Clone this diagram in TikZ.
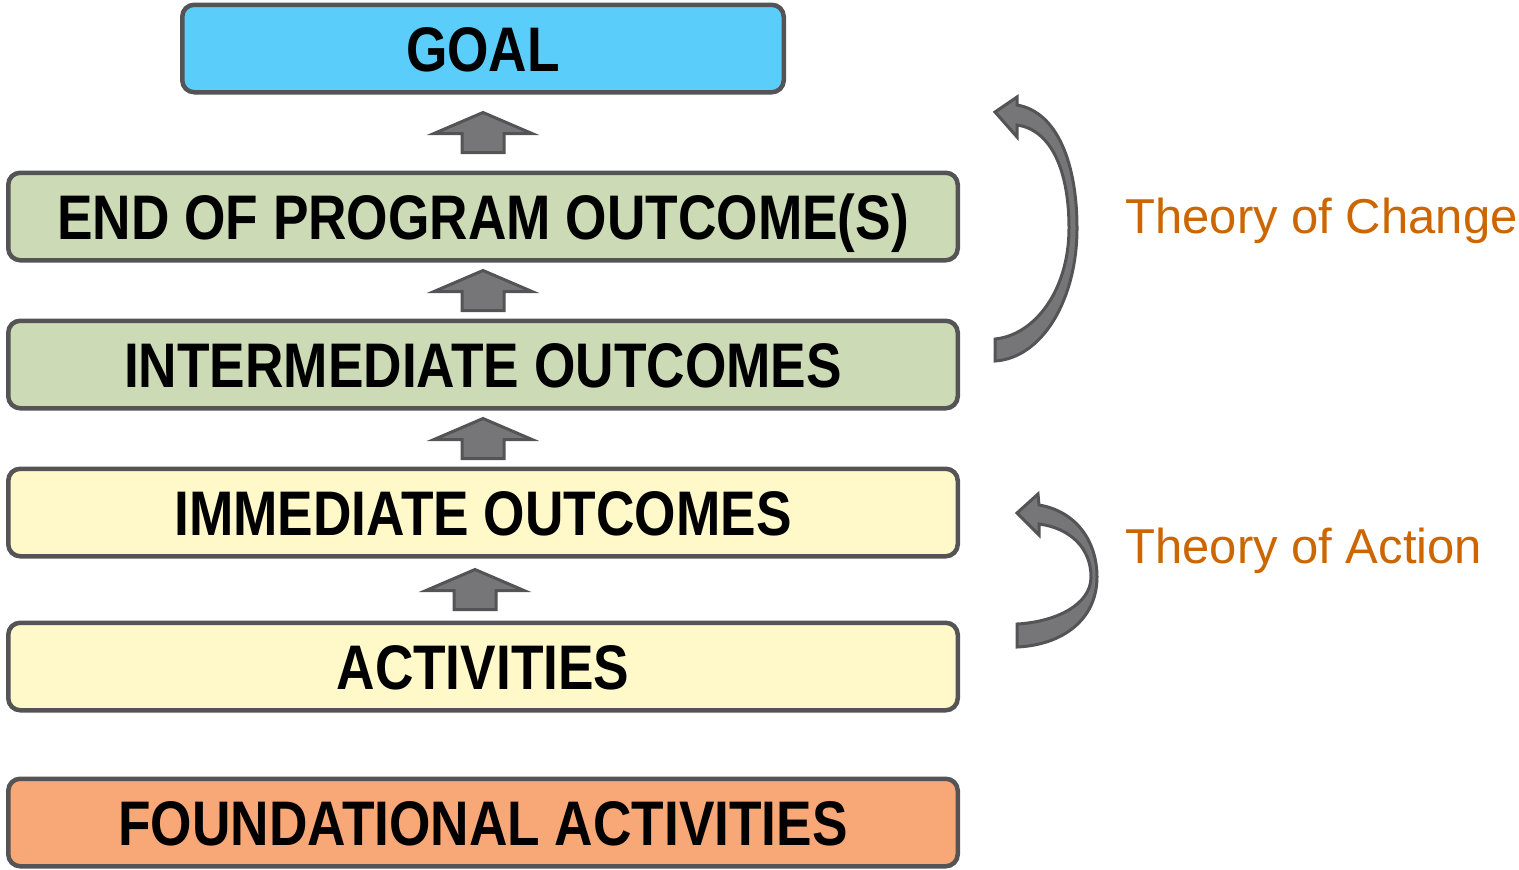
\documentclass[tikz,border=0pt]{standalone}
\usepackage{fontspec}
\setmainfont{Liberation Sans}
\newfontfamily\boxfont[FakeStretch=0.845]{Liberation Sans}
\usetikzlibrary{positioning,calc}

\definecolor{edgegray}{RGB}{84,84,86}
\definecolor{arrowgray}{RGB}{118,118,120}
\definecolor{goalblue}{RGB}{91,205,250}
\definecolor{outgreen}{RGB}{204,218,181}
\definecolor{actyellow}{RGB}{255,249,201}
\definecolor{foundorange}{RGB}{248,167,118}
\definecolor{theoryorange}{RGB}{204,102,0}

\begin{document}
\begin{tikzpicture}[x=0.5pt,y=-0.5pt,
  box/.style={draw=edgegray,line width=2.25pt,rounded corners=6pt,minimum width=474.75pt,
    minimum height=43.75pt,inner sep=0pt,font=\boxfont\bfseries\fontsize{31.5}{36}\selectfont,
    text height=22.5pt,text depth=0pt},
  arrowbody/.style={draw=edgegray,fill=arrowgray,line width=1.5pt},
  theory/.style={anchor=base west,text=theoryorange,inner sep=0pt,
    font=\fontsize{24.5}{28}\selectfont},
  uparrow/.pic={\draw[arrowbody] (0,-20) -- (49,1) -- (21,1) -- (21,20) -- (-21,20)
    -- (-21,1) -- (-49,1) -- cycle;}]

  \useasboundingbox (0,0) rectangle (1519,869);

  \node[box,fill=goalblue,minimum width=300.75pt] (goal) at (483,48.5) {GOAL};
  \node[box,fill=outgreen] (eop) [below=38pt of goal] {END OF PROGRAM OUTCOME(S)};
  \node[box,fill=outgreen] (inter) [below=28pt of eop] {INTERMEDIATE OUTCOMES};
  \node[box,fill=actyellow] (immed) [below=28pt of inter] {IMMEDIATE OUTCOMES};
  \node[box,fill=actyellow] (activ) [below=31pt of immed] {ACTIVITIES};
  \node[box,fill=foundorange] (found) [below=32pt of activ] {FOUNDATIONAL ACTIVITIES};

  \pic at ($(goal.south)!0.5!(eop.north)$) {uparrow};
  \pic at ($(eop.south)!0.5!(inter.north)$) {uparrow};
  \pic at ($(inter.south)!0.5!(immed.north)$) {uparrow};
  \pic at ($(immed.south)!0.5!(activ.north)+(-8,0)$) {uparrow};

  % curved arrows on the right
  \draw[arrowbody] (995,112) -- (1017,97) -- (1017,105)
    .. controls (1058,112) and (1077,165) .. (1077,228)
    .. controls (1077,300) and (1042,358) .. (995,361) -- (995,339)
    .. controls (1035,335) and (1069,290) .. (1069,228)
    .. controls (1069,172) and (1052,130) .. (1017,125) -- (1017,137) -- cycle;
  \draw[arrowbody] (1017,513) -- (1038,494) -- (1039,505)
    .. controls (1075,511) and (1097,540) .. (1097,577)
    .. controls (1097,620) and (1062,645) .. (1017,647) -- (1017,624)
    .. controls (1055,622) and (1091,605) .. (1091,577)
    .. controls (1091,548) and (1070,528) .. (1039,524) -- (1039,535) -- cycle;

  \node[theory] (change) at (1125,233) {Theory of Change};
  \node[theory] (action) at (1125,563) {Theory of Action};

\end{tikzpicture}
\end{document}
